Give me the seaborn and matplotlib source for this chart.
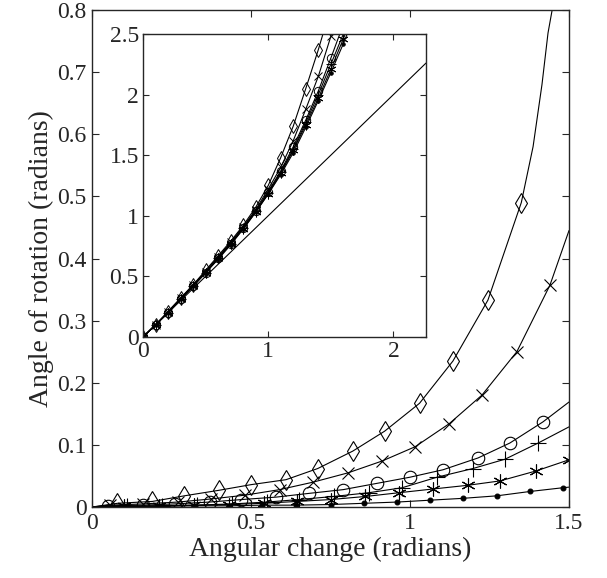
import numpy as np
import pandas as pd
import seaborn as sns
import matplotlib.pyplot as plt

# main plot data
x_diamond = [0, 0.08, 0.19, 0.29, 0.40, 0.50, 0.61, 0.71, 0.82, 0.92, 1.03, 1.135, 1.245, 1.35, 1.387, 1.415, 1.434, 1.447, 1.46]
y_diamond = [0, 0.006, 0.009, 0.018, 0.027, 0.036, 0.044, 0.062, 0.090, 0.122, 0.167, 0.235, 0.333, 0.49, 0.58, 0.68, 0.763, 0.80, 0.86]

x_cross = [0, 0.055, 0.16, 0.27, 0.375, 0.48, 0.59, 0.695, 0.805, 0.912, 1.016, 1.123, 1.226, 1.336, 1.44, 1.5]
y_cross = [0, 0.003, 0.005, 0.008, 0.013, 0.019, 0.028, 0.040, 0.055, 0.074, 0.097, 0.134, 0.18, 0.25, 0.357, 0.445]

x_circle = [0, 0.05, 0.16, 0.26, 0.37, 0.47, 0.58, 0.683, 0.79, 0.895, 1.0, 1.104, 1.214, 1.314, 1.418, 1.5]
y_circle = [0, 0.002, 0.003, 0.005, 0.008, 0.012, 0.016, 0.022, 0.028, 0.038, 0.048, 0.060, 0.079, 0.103, 0.137, 0.169]

x_plus = [0, 0.11, 0.22, 0.33, 0.44, 0.55, 0.65, 0.76, 0.87, 0.975, 1.085, 1.198, 1.299, 1.403, 1.5]
y_plus = [0, 0.001, 0.002, 0.003, 0.005, 0.008, 0.012, 0.017, 0.023, 0.031, 0.048, 0.062, 0.077, 0.103, 0.129]

x_star = [0, 0.1, 0.21, 0.32, 0.43, 0.54, 0.645, 0.75, 0.86, 0.965, 1.072, 1.182, 1.283, 1.396, 1.5]
y_star = [0, 0.001, 0.002, 0.003, 0.004, 0.006, 0.009, 0.012, 0.017, 0.023, 0.029, 0.035, 0.042, 0.058, 0.076]

x_dot = [0, 0.11, 0.22, 0.325, 0.43, 0.535, 0.64, 0.75, 0.855, 0.96, 1.063, 1.167, 1.273, 1.377, 1.48, 1.5]
y_dot = [0, 0.001, 0.001, 0.002, 0.002, 0.003, 0.003, 0.004, 0.006, 0.008, 0.011, 0.014, 0.018, 0.025, 0.031, 0.032]

# inset data
x_in = [0, 0.1, 0.2, 0.3, 0.4, 0.5, 0.6, 0.7, 0.8, 0.9, 1.0, 1.1, 1.2, 1.3, 1.4, 1.5, 1.6, 1.7]
yin_diamond = [0, 0.10, 0.21, 0.32, 0.43, 0.55, 0.67, 0.79, 0.92, 1.07, 1.25, 1.48, 1.74, 2.05, 2.37, 2.72]
yin_cross = [0, 0.10, 0.21, 0.32, 0.43, 0.54, 0.66, 0.78, 0.91, 1.05, 1.22, 1.40, 1.62, 1.88, 2.15, 2.48, 2.8]
yin_circle = [0, 0.10, 0.20, 0.31, 0.42, 0.53, 0.65, 0.77, 0.90, 1.04, 1.20, 1.37, 1.57, 1.79, 2.03, 2.30, 2.58]
yin_plus = [0, 0.10, 0.20, 0.31, 0.42, 0.53, 0.65, 0.77, 0.90, 1.04, 1.19, 1.36, 1.55, 1.77, 2.0, 2.25, 2.50, 2.78]
yin_star = [0, 0.10, 0.20, 0.31, 0.42, 0.53, 0.65, 0.77, 0.89, 1.03, 1.18, 1.35, 1.54, 1.75, 1.97, 2.21, 2.46, 2.72]
yin_dot = [0, 0.10, 0.20, 0.31, 0.42, 0.53, 0.64, 0.76, 0.89, 1.03, 1.18, 1.34, 1.52, 1.73, 1.95, 2.18, 2.42, 2.68]
x_line = [0, 2.26]
y_line = [0, 2.26]

sns.set_style("ticks")
plt.rcParams['font.family'] = ['Liberation Serif', 'DejaVu Serif']

fig = plt.figure(figsize=(6.07, 5.78), dpi=100)
ax = fig.add_axes([0.1516, 0.1228, 0.7858, 0.8599])

series = [
    (x_diamond, y_diamond, "d", 10, list(range(1, 14))),
    (x_cross, y_cross, "x", 8, list(range(1, 15))),
    (x_circle, y_circle, "o", 9, list(range(1, 15))),
    (x_plus, y_plus, "+", 11, list(range(1, 14))),
    (x_star, y_star, (6, 2, 0), 10, list(range(1, 15))),
    (x_dot, y_dot, ".", 7, list(range(1, 15))),
]
for xs, ys, mk, ms, every in series:
    sns.lineplot(x=xs, y=ys, ax=ax, color="k", lw=0.8, marker=mk, ms=ms,
                 mfc="none" if mk in ("d", "o") else "k", mec="k", mew=0.8,
                 markevery=every)

ax.set_xlim(0, 1.5)
ax.set_ylim(0, 0.8)
ax.set_xticks([0, 0.5, 1, 1.5])
ax.set_xticklabels(["0", "0.5", "1", "1.5"])
ax.set_yticks(np.arange(0, 0.81, 0.1))
ax.set_yticklabels(["0", "0.1", "0.2", "0.3", "0.4", "0.5", "0.6", "0.7", "0.8"])
ax.tick_params(direction="in", top=True, right=True, length=5, labelsize=17, pad=4)
ax.set_xlabel("Angular change (radians)", fontsize=20, labelpad=2)
ax.set_ylabel("Angle of rotation (radians)", fontsize=20, labelpad=2)
for s in ax.spines.values():
    s.set_linewidth(1.0)

# inset
axin = fig.add_axes([0.2356, 0.417, 0.4662, 0.5242])
inset = [
    (yin_diamond, "d", 7),
    (yin_cross, "x", 6),
    (yin_circle, "o", 6),
    (yin_plus, "+", 7),
    (yin_star, (6, 2, 0), 7),
    (yin_dot, ".", 5),
]
for ys, mk, ms in inset:
    sns.lineplot(x=x_in[:len(ys)], y=ys, ax=axin, color="k", lw=0.8, marker=mk, ms=ms,
                 mfc="none" if mk in ("d", "o") else "k", mec="k", mew=0.7)
sns.lineplot(x=x_line, y=y_line, ax=axin, color="k", lw=0.8)

axin.set_xlim(0, 2.26)
axin.set_ylim(0, 2.5)
axin.set_xticks([0, 1, 2])
axin.set_yticks([0, 0.5, 1, 1.5, 2, 2.5])
axin.set_yticklabels(["0", "0.5", "1", "1.5", "2", "2.5"])
axin.tick_params(direction="in", top=True, right=True, length=4, labelsize=17, pad=3)
for s in axin.spines.values():
    s.set_linewidth(1.0)

fig.savefig("out.png", dpi=100)
